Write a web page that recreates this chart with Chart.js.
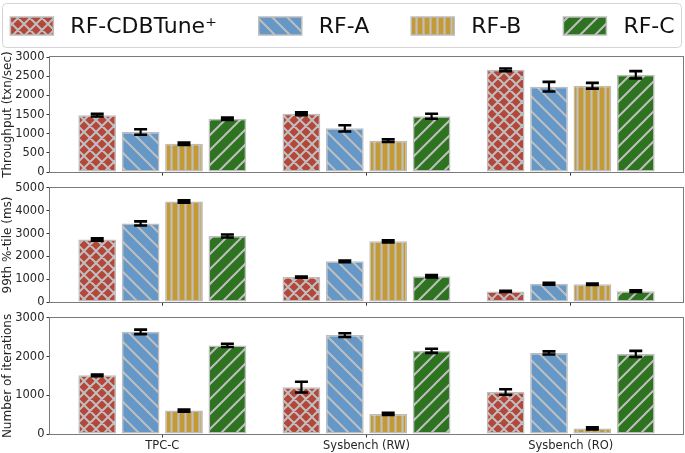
<!DOCTYPE html>
<html>
<head>
<meta charset="utf-8">
<script src="https://cdn.jsdelivr.net/npm/chart.js@4.4.0/dist/chart.umd.min.js"></script>
<style>
  html, body { margin: 0; padding: 0; background: #fff; }
  #wrap { position: relative; width: 685px; height: 453px; overflow: hidden; }
  .box { position: absolute; left: 0; width: 685px; }
</style>
</head>
<body>
<div id="wrap">
  <div class="box" style="top:0;height:181px"><canvas id="c1"></canvas></div>
  <div class="box" style="top:179px;height:132px"><canvas id="c2"></canvas></div>
  <div class="box" style="top:309px;height:144px"><canvas id="c3"></canvas></div>
</div>
<script>
// workloads and methods
const categories = ['TPC-C', 'Sysbench (RW)', 'Sysbench (RO)'];
const methods = ['RF-CDBTune\u207A', 'RF-A', 'RF-B', 'RF-C'];

// throughput (txn/sec)
const tputCDB = [1485, 1520, 2665];
const tputA = [1045, 1140, 2225];
const tputB = [740, 820, 2250];
const tputC = [1390, 1455, 2535];
const tputErrCDB = [36, 36, 36];
const tputErrA = [70, 83, 126];
const tputErrB = [32, 36, 75];
const tputErrC = [32, 66, 96];

// 99th percentile latency (ms)
const latCDB = [2740, 1095, 465];
const latA = [3445, 1785, 805];
const latB = [4405, 2660, 785];
const latC = [2895, 1135, 480];
const latErrCDB = [53, 25, 25];
const latErrA = [89, 39, 39];
const latErrB = [53, 46, 32];
const latErrC = [68, 53, 39];

// number of iterations
const iterCDB = [1515, 1210, 1085];
const iterA = [2640, 2555, 2095];
const iterB = [605, 520, 145];
const iterC = [2290, 2150, 2070];
const iterErrCDB = [22, 139, 70];
const iterErrA = [58, 49, 41];
const iterErrB = [28, 28, 28];
const iterErrC = [41, 53, 79];

const font = { family: '"DejaVu Sans", sans-serif', size: 11.5 };
const textColor = '#262626';

// hatch fills like the matplotlib ones
function hatch(kind, color) {
  const size = kind === 'x' ? 12 : kind === '|' ? 7 : 15;
  const c = document.createElement('canvas');
  c.width = size; c.height = size;
  const g = c.getContext('2d');
  g.fillStyle = color;
  g.fillRect(0, 0, size, size);
  g.strokeStyle = '#bfbfbf';
  g.lineWidth = kind === '|' ? 2.2 : 2;
  g.beginPath();
  if (kind === '|') {
    g.moveTo(size / 2, 0); g.lineTo(size / 2, size);
  }
  if (kind === '/' || kind === 'x') {
    for (const o of [-size, 0, size]) { g.moveTo(o - 1, size + 1); g.lineTo(o + size + 1, -1); }
  }
  if (kind === '\\' || kind === 'x') {
    for (const o of [-size, 0, size]) { g.moveTo(o - 1, -1); g.lineTo(o + size + 1, size + 1); }
  }
  g.stroke();
  return g.createPattern(c, 'repeat');
}

const fills = [
  hatch('x', '#b4463a'),
  hatch('\\', '#6598c7'),
  hatch('|', '#c49a34'),
  hatch('/', '#2e7320')
];

const framePlugin = {
  id: 'frame',
  afterDatasetsDraw(chart) {
    const { ctx, chartArea: a } = chart;
    ctx.save();
    ctx.strokeStyle = '#7a7a7a';
    ctx.lineWidth = 1;
    ctx.strokeRect(Math.round(a.left) - 0.5, Math.round(a.top) - 0.5,
      Math.round(a.width) + 1, Math.round(a.height) + 1);
    ctx.restore();
  }
};

const errorBarPlugin = {
  id: 'errbars',
  afterDatasetsDraw(chart) {
    const ctx = chart.ctx;
    const y = chart.scales.y;
    ctx.save();
    ctx.strokeStyle = '#000';
    chart.data.datasets.forEach((ds, d) => {
      chart.getDatasetMeta(d).data.forEach((bar, i) => {
        const v = ds.data[i].y, e = ds.errors[i];
        const y1 = y.getPixelForValue(v - e);
        const y2 = y.getPixelForValue(v + e);
        ctx.lineWidth = 2.2;
        ctx.beginPath();
        ctx.moveTo(bar.x, y1); ctx.lineTo(bar.x, y2);
        ctx.stroke();
        ctx.lineWidth = 2.6;
        ctx.beginPath();
        ctx.moveTo(bar.x - 6.5, y1); ctx.lineTo(bar.x + 6.5, y1);
        ctx.moveTo(bar.x - 6.5, y2); ctx.lineTo(bar.x + 6.5, y2);
        ctx.stroke();
      });
    });
    ctx.restore();
  }
};

// framed legend row on top of the first panel
const legendPlugin = {
  id: 'boxLegend',
  afterDraw(chart) {
    const ctx = chart.ctx;
    ctx.save();
    ctx.strokeStyle = '#d4d4d4';
    ctx.lineWidth = 1;
    ctx.beginPath();
    ctx.roundRect(2.5, 3.5, 679, 44, 4);
    ctx.stroke();

    ctx.font = '22px "DejaVu Sans", sans-serif';
    ctx.textBaseline = 'middle';
    const sw = 43, sh = 18, gapText = 17, gapItem = 42, cy = 26;
    const items = chart.data.datasets.map(ds => ({ ds, w: ctx.measureText(ds.label).width }));
    const total = items.reduce((s, it) => s + sw + gapText + it.w, 0) + gapItem * (items.length - 1);
    let x = (chart.width - total) / 2;
    items.forEach(it => {
      ctx.fillStyle = it.ds.backgroundColor;
      ctx.fillRect(x, cy - sh / 2, sw, sh);
      ctx.strokeStyle = '#bdbdbd';
      ctx.lineWidth = 1.5;
      ctx.strokeRect(x, cy - sh / 2, sw, sh);
      ctx.fillStyle = '#111';
      ctx.fillText(it.ds.label, x + sw + gapText, cy + 1);
      x += sw + gapText + it.w + gapItem;
    });
    ctx.restore();
  }
};

function makeChart(id, series, errors, yMax, yStep, yTitle, opts) {
  const datasets = series.map((vals, k) => ({
    label: methods[k],
    data: vals.map((v, i) => ({ x: i, y: v })),
    errors: errors[k],
    backgroundColor: fills[k],
    borderColor: '#bdbdbd',
    borderWidth: 1.5,
    borderSkipped: false,
    categoryPercentage: 0.85,
    barPercentage: 0.87
  }));

  const plugins = [framePlugin, errorBarPlugin];
  if (opts.legend) plugins.push(legendPlugin);

  return new Chart(document.getElementById(id), {
    type: 'bar',
    data: { datasets },
    options: {
      responsive: true,
      maintainAspectRatio: false,
      animation: false,
      events: [],
      layout: { padding: { top: opts.top, right: 2, left: 0, bottom: 0 } },
      plugins: { legend: { display: false }, tooltip: { enabled: false } },
      scales: {
        x: {
          type: 'linear',
          offset: false,
          min: -0.55,
          max: 2.55,
          afterBuildTicks: ax => { ax.ticks = categories.map((c, i) => ({ value: i })); },
          afterFit: ax => { ax.height = opts.xh; },
          grid: { offset: false, drawOnChartArea: false, drawTicks: true, tickLength: 3.5, color: '#333' },
          border: { display: false },
          ticks: {
            display: opts.labels,
            padding: 2,
            font,
            color: textColor,
            autoSkip: false,
            maxRotation: 0,
            callback: v => categories[v] ?? ''
          }
        },
        y: {
          min: 0,
          max: yMax,
          afterFit: ax => { ax.width = 50; },
          grid: { drawOnChartArea: false, drawTicks: true, tickLength: 3.5, color: '#333' },
          border: { display: false },
          ticks: { stepSize: yStep, padding: 2, font, color: textColor, callback: v => String(v) },
          title: { display: true, text: yTitle, font: { ...font, size: 12 }, color: textColor, padding: { top: 1, bottom: 0 } }
        }
      }
    },
    plugins
  });
}

makeChart('c1', [tputCDB, tputA, tputB, tputC], [tputErrCDB, tputErrA, tputErrB, tputErrC],
  3000, 500, 'Throughput (txn/sec)', { top: 57, xh: 7, labels: false, legend: true });
makeChart('c2', [latCDB, latA, latB, latC], [latErrCDB, latErrA, latErrB, latErrC],
  5000, 1000, '99th %-tile (ms)', { top: 8, xh: 7, labels: false });
makeChart('c3', [iterCDB, iterA, iterB, iterC], [iterErrCDB, iterErrA, iterErrB, iterErrC],
  3000, 1000, 'Number of iterations', { top: 8, xh: 19, labels: true });
</script>
</body>
</html>
